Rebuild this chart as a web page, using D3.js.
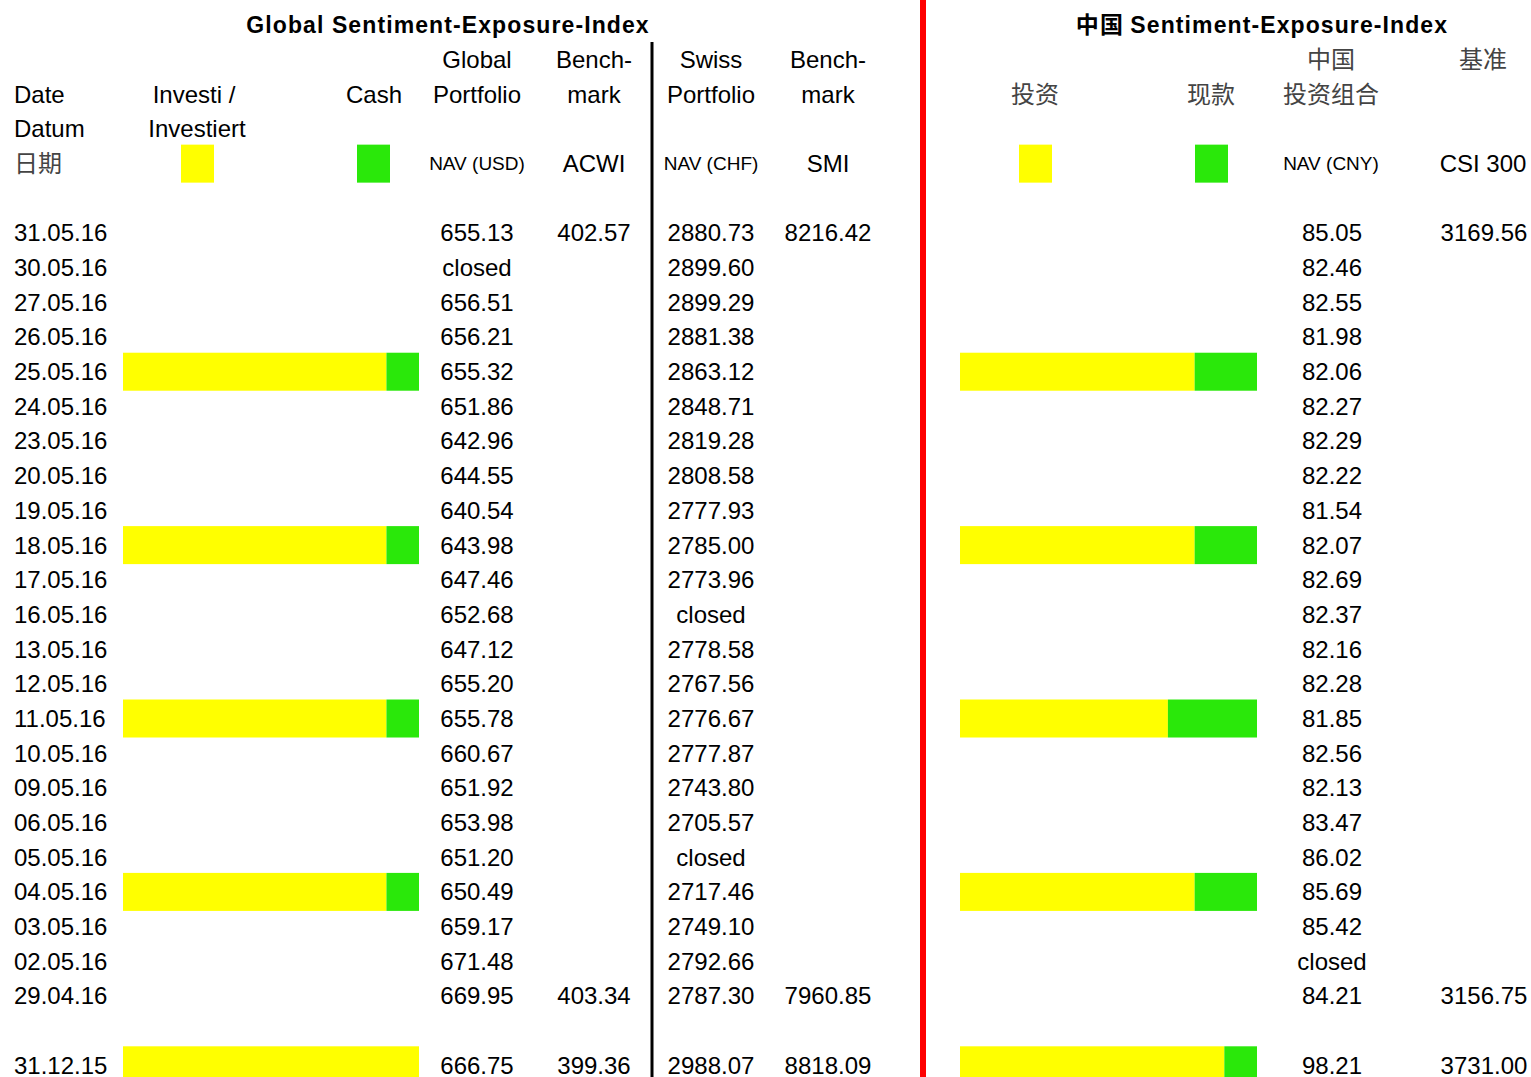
<!DOCTYPE html>
<html lang="en">
<head>
<meta charset="utf-8">
<title>Sentiment-Exposure-Index</title>
<script src="https://cdn.jsdelivr.net/npm/d3@7"></script>
<style>
  body { margin: 0; background: #fff; }
  text { font-family: "Liberation Sans", Arial, sans-serif; fill: #000; }
  .cjk { font-family: "Noto Sans CJK SC", sans-serif; fill: #444; }
  .title { font-weight: bold; font-size: 23px; letter-spacing: 1.1px; }
  .cell { font-size: 24px; }
  .small { font-size: 19px; }
</style>
</head>
<body>
<div id="chart"></div>
<script>
// rows, newest first; null = empty spacer row
var dates = ["31.05.16","30.05.16","27.05.16","26.05.16","25.05.16","24.05.16","23.05.16","20.05.16",
  "19.05.16","18.05.16","17.05.16","16.05.16","13.05.16","12.05.16","11.05.16","10.05.16",
  "09.05.16","06.05.16","05.05.16","04.05.16","03.05.16","02.05.16","29.04.16",null,"31.12.15"];

var globalNav = [655.13,"closed",656.51,656.21,655.32,651.86,642.96,644.55,640.54,643.98,647.46,652.68,
  647.12,655.20,655.78,660.67,651.92,653.98,651.20,650.49,659.17,671.48,669.95,null,666.75];

var acwi = [402.57,null,null,null,null,null,null,null,null,null,null,null,
  null,null,null,null,null,null,null,null,null,null,403.34,null,399.36];

var swissNav = [2880.73,2899.60,2899.29,2881.38,2863.12,2848.71,2819.28,2808.58,2777.93,2785.00,2773.96,"closed",
  2778.58,2767.56,2776.67,2777.87,2743.80,2705.57,"closed",2717.46,2749.10,2792.66,2787.30,null,2988.07];

var smi = [8216.42,null,null,null,null,null,null,null,null,null,null,null,
  null,null,null,null,null,null,null,null,null,null,7960.85,null,8818.09];

var chinaNav = [85.05,82.46,82.55,81.98,82.06,82.27,82.29,82.22,81.54,82.07,82.69,82.37,
  82.16,82.28,81.85,82.56,82.13,83.47,86.02,85.69,85.42,"closed",84.21,null,98.21];

var csi300 = [3169.56,null,null,null,null,null,null,null,null,null,null,null,
  null,null,null,null,null,null,null,null,null,null,3156.75,null,3731.00];

// exposure (% invested, rest is cash)
var exposureDates = ["25.05.16","18.05.16","11.05.16","04.05.16","31.12.15"];
var globalInvested = [89, 89, 89, 89, 100];
var chinaInvested = [79, 79, 70, 79, 89];

var width = 1531, height = 1077;
var yellow = "#ffff00", green = "#2ae80a";

var svg = d3.select("#chart").append("svg")
    .attr("width", width)
    .attr("height", height);

// row grid: header rows use negative indexes
var y = d3.scaleLinear().domain([0, 24]).range([233, 1065.3]);
var rowOf = function(dt) { return dates.indexOf(dt); };

var xGlobal = d3.scaleLinear().domain([0, 100]).range([123, 419]);
var xChina = d3.scaleLinear().domain([0, 100]).range([960, 1257]);

var fmt = function(v) { return typeof v === "number" ? v.toFixed(2) : v; };

function label(txt, x, row, cls, anchor) {
  svg.append("text")
      .attr("class", cls)
      .attr("x", x)
      .attr("y", y(row))
      .attr("dy", "0.35em")
      .attr("text-anchor", anchor || "middle")
      .text(txt);
}

// bars
function bars(xs, invested) {
  var g = svg.append("g");
  var h = 38;
  g.selectAll("rect.inv").data(exposureDates).enter().append("rect")
      .attr("x", xs(0))
      .attr("y", function(d) { return y(rowOf(d)) - h / 2; })
      .attr("width", function(d, i) { return xs(invested[i]) - xs(0); })
      .attr("height", h)
      .attr("fill", yellow);
  g.selectAll("rect.cash").data(exposureDates).enter().append("rect")
      .attr("x", function(d, i) { return xs(invested[i]); })
      .attr("y", function(d) { return y(rowOf(d)) - h / 2; })
      .attr("width", function(d, i) { return xs(100) - xs(invested[i]); })
      .attr("height", h)
      .attr("fill", green);
}
bars(xGlobal, globalInvested);
bars(xChina, chinaInvested);

// separators
svg.append("line").attr("x1", 652).attr("x2", 652).attr("y1", 42).attr("y2", height)
    .attr("stroke", "#000").attr("stroke-width", 3);
svg.append("line").attr("x1", 923).attr("x2", 923).attr("y1", 0).attr("y2", height)
    .attr("stroke", "#ff0000").attr("stroke-width", 6);

// titles
label("Global Sentiment-Exposure-Index", 448, -6, "title");
var t = svg.append("text").attr("class", "title")
    .attr("x", 1262).attr("y", y(-6)).attr("dy", "0.35em").attr("text-anchor", "middle");
t.append("tspan").attr("class", "cjk").style("fill", "#000").text("中国 ");
t.append("tspan").text(" Sentiment-Exposure-Index");

// headers (global side)
label("Date", 14, -4, "cell", "start");
label("Datum", 14, -3, "cell", "start");
label("日期", 14, -2, "cell cjk", "start");
label("Investi /", 194, -4, "cell");
label("Investiert", 197, -3, "cell");
label("Cash", 374, -4, "cell");
label("Global", 477, -5, "cell");
label("Portfolio", 477, -4, "cell");
label("NAV (USD)", 477, -2, "small");
label("Bench-", 594, -5, "cell");
label("mark", 594, -4, "cell");
label("ACWI", 594, -2, "cell");
label("Swiss", 711, -5, "cell");
label("Portfolio", 711, -4, "cell");
label("NAV (CHF)", 711, -2, "small");
label("Bench-", 828, -5, "cell");
label("mark", 828, -4, "cell");
label("SMI", 828, -2, "cell");

// headers (china side)
label("投资", 1035, -4, "cell cjk");
label("现款", 1211, -4, "cell cjk");
label("中国", 1331, -5, "cell cjk");
label("投资组合", 1331, -4, "cell cjk");
label("NAV (CNY)", 1331, -2, "small");
label("基准", 1483, -5, "cell cjk");
label("CSI 300", 1483, -2, "cell");

// legend swatches
[[181, yellow], [357, green], [1019, yellow], [1195, green]].forEach(function(s) {
  svg.append("rect").attr("x", s[0]).attr("y", y(-2) - 19)
      .attr("width", 33).attr("height", 38).attr("fill", s[1]);
});

// data columns
function column(values, x, anchor) {
  svg.append("g").selectAll("text")
    .data(values.map(function(v, i) { return {v: v, i: i}; }).filter(function(d) { return d.v != null; }))
    .enter().append("text")
      .attr("class", "cell")
      .attr("x", x)
      .attr("y", function(d) { return y(d.i); })
      .attr("dy", "0.35em")
      .attr("text-anchor", anchor || "middle")
      .text(function(d) { return fmt(d.v); });
}
column(dates, 14, "start");
column(globalNav, 477);
column(acwi, 594);
column(swissNav, 711);
column(smi, 828);
column(chinaNav, 1332);
column(csi300, 1484);
</script>
</body>
</html>
